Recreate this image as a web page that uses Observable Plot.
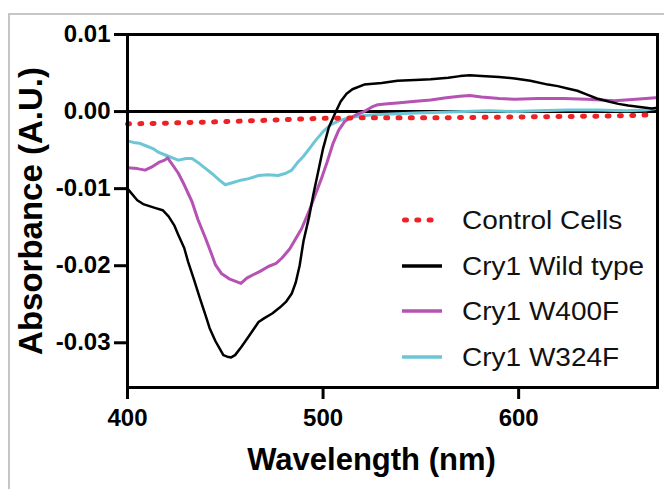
<!DOCTYPE html>
<html>
<head>
<meta charset="utf-8">
<script src="https://cdn.jsdelivr.net/npm/d3@7"></script>
<script src="https://cdn.jsdelivr.net/npm/@observablehq/plot@0.6"></script>
<style>
  html, body { margin: 0; padding: 0; background: #fff; overflow: hidden; }
  #wrap { position: relative; width: 664px; height: 489px; font-family: "Liberation Sans", Arial, sans-serif; }
  #frame { position: absolute; left: 8px; top: 13px; width: 700px; height: 520px; border-left: 2px solid #c6c6c6; border-top: 2px solid #c6c6c6; }
  #chart { position: absolute; left: 0; top: 0; }
  .leg { position: absolute; left: 0; top: 0; }
  .row { position: absolute; height: 0; }
  .row svg { position: absolute; left: 0; top: -6px; }
  .row span { position: absolute; left: 62px; top: -15px; font-size: 25px; line-height: 30px; white-space: nowrap; transform: scaleX(1.12); transform-origin: left center; color: #111; }
</style>
</head>
<body>
<div id="wrap">
  <div id="frame"></div>
  <div id="chart"></div>
  <div class="leg" id="legend"></div>
</div>
<script>
// ---- Data ----
const seriesNames = ["Control Cells", "Cry1 Wild type", "Cry1 W400F", "Cry1 W324F"];
const seriesColors = ["#ec2227", "#000000", "#b552b2", "#6cc6d6"];

const controlWl = [400, 420, 450, 475, 496, 520, 560, 600, 640, 660, 670];
const controlAbs = [-0.0016, -0.0015, -0.0013, -0.0011, -0.0009, -0.0008, -0.0008, -0.0007, -0.0006, -0.0005, -0.0004];

const wildWl = [400, 405, 408, 414, 418, 421, 424, 426, 429, 431, 434, 437, 440, 442, 445, 447, 449, 451, 453, 455, 458, 460, 463, 467, 470, 474, 478, 481, 484, 486, 488, 490, 493, 495, 498, 500, 503, 506, 509, 512, 515, 521, 530, 538, 547, 555, 564, 570, 575, 581, 590, 598, 606, 615, 620, 625, 630, 635, 640, 646, 651, 656, 662, 668, 671];
const wildAbs = [-0.0100, -0.0115, -0.0120, -0.0125, -0.0128, -0.0136, -0.0148, -0.0160, -0.0177, -0.0195, -0.0218, -0.0242, -0.0265, -0.0281, -0.0298, -0.0307, -0.0316, -0.0318, -0.0319, -0.0316, -0.0306, -0.0299, -0.0288, -0.0273, -0.0268, -0.0262, -0.0254, -0.0247, -0.0236, -0.0222, -0.0200, -0.0168, -0.0135, -0.0108, -0.0072, -0.0048, -0.0020, -0.0003, 0.0013, 0.0023, 0.0029, 0.0035, 0.0037, 0.0040, 0.0041, 0.0042, 0.0044, 0.0046, 0.0047, 0.0046, 0.0045, 0.0043, 0.0040, 0.0035, 0.0033, 0.0030, 0.0027, 0.0022, 0.0017, 0.0013, 0.0010, 0.0008, 0.0006, 0.0004, 0.0005];

const w400Wl = [400, 405, 409, 413, 416, 419, 420.5, 423, 426, 429, 433, 436, 440, 443, 445, 448, 452, 456, 458, 461, 464, 468, 472, 476, 479, 483, 486, 489, 493, 496, 499, 502, 505, 508, 511, 514, 518, 521, 525, 528, 533, 538, 546, 555, 563, 570, 575, 581, 590, 598, 610, 623, 635, 649, 660, 670];
const w400Abs = [-0.0073, -0.0074, -0.0076, -0.0071, -0.0066, -0.0063, -0.0060, -0.0069, -0.0080, -0.0095, -0.0117, -0.0140, -0.0165, -0.0185, -0.0199, -0.0210, -0.0217, -0.0221, -0.0223, -0.0216, -0.0212, -0.0207, -0.0201, -0.0197, -0.0190, -0.0178, -0.0165, -0.0152, -0.0128, -0.0108, -0.0088, -0.0066, -0.0042, -0.0024, -0.0013, -0.0008, -0.0003, 0.0000, 0.0006, 0.0009, 0.0010, 0.0011, 0.0013, 0.0015, 0.0018, 0.0020, 0.0021, 0.0019, 0.0017, 0.0016, 0.0017, 0.0017, 0.0016, 0.0014, 0.0016, 0.0018];

const w324Wl = [400, 403, 406, 409, 413, 416, 419, 423, 426, 430, 433, 436, 440, 443, 447, 450, 454, 458, 462, 467, 472, 477, 481, 484, 487, 490, 493, 496, 500, 504, 508, 512, 518, 526, 535, 547, 560, 572, 585, 598, 610, 625, 640, 655, 665, 670];
const w324Abs = [-0.0038, -0.0040, -0.0041, -0.0044, -0.0048, -0.0053, -0.0056, -0.0060, -0.0063, -0.0061, -0.0061, -0.0066, -0.0074, -0.0080, -0.0089, -0.0095, -0.0092, -0.0089, -0.0087, -0.0083, -0.0082, -0.0083, -0.0080, -0.0076, -0.0066, -0.0058, -0.0048, -0.0038, -0.0026, -0.0017, -0.0012, -0.0009, -0.0006, -0.0004, -0.0003, -0.0002, -0.0001, 0.0000, 0.0001, 0.0000, 0.0001, 0.0002, 0.0002, 0.0001, 0.0002, 0.0004];

const xTicks = [400, 500, 600];
const yTicks = [0.01, 0.00, -0.01, -0.02, -0.03];
const xLabel = "Wavelength (nm)";
const yLabel = "Absorbance (A.U.)";

// ---- Build tables ----
const toRows = (wl, ab) => wl.map((w, i) => ({ w, a: ab[i] }));
const control = toRows(controlWl, controlAbs);
const wild = toRows(wildWl, wildAbs);
const w400 = toRows(w400Wl, w400Abs);
const w324 = toRows(w324Wl, w324Abs);

const fmtY = d => (Math.abs(d) < 1e-12 ? "0.00" : d.toFixed(2));

const chart = Plot.plot({
  width: 664,
  height: 489,
  marginLeft: 127,
  marginRight: 7,
  marginTop: 34,
  marginBottom: 102,
  style: { fontFamily: "'Liberation Sans', Arial, sans-serif", fontWeight: "bold", fontSize: "24px", color: "#000", background: "transparent" },
  x: { domain: [400, 671] },
  y: { domain: [-0.0358, 0.01] },
  marks: [
    Plot.ruleY([0], { stroke: "#000", strokeWidth: 3 }),
    Plot.line(w324, { x: "w", y: "a", stroke: seriesColors[3], strokeWidth: 3 }),
    Plot.line(w400, { x: "w", y: "a", stroke: seriesColors[2], strokeWidth: 3 }),
    Plot.line(wild, { x: "w", y: "a", stroke: seriesColors[1], strokeWidth: 2.5 }),
    Plot.line(control, { x: "w", y: "a", stroke: seriesColors[0], strokeWidth: 5, strokeDasharray: "2 10.3", strokeLinecap: "round" }),
    Plot.frame({ stroke: "#000", strokeWidth: 3 }),
    Plot.axisX({ ticks: xTicks, tickSize: 12, tickPadding: 9, strokeWidth: 3, label: null, fontSize: 24, fontWeight: "bold", tickFormat: d => String(d) }),
    Plot.axisY({ ticks: yTicks, tickSize: 13, tickPadding: 4, strokeWidth: 3, label: null, fontSize: 24, fontWeight: "bold", tickFormat: fmtY }),
    Plot.text([xLabel], { frameAnchor: "bottom", dy: 73, dx: -21, fontSize: 31, fontWeight: "bold", lineAnchor: "middle", textAnchor: "middle", fill: "#000" }),
    Plot.text([yLabel], { frameAnchor: "left", dx: -96, rotate: -90, fontSize: 33, fontWeight: "bold", lineAnchor: "middle", textAnchor: "middle", fill: "#000" })
  ]
});
document.getElementById("chart").appendChild(chart);

// ---- Legend (inside plot, lower right) ----
const legend = document.getElementById("legend");
const legendTops = [220, 265.5, 311, 356.5];
seriesNames.forEach((name, i) => {
  const row = document.createElement("div");
  row.className = "row";
  row.style.left = "400px";
  row.style.top = legendTops[i] + "px";
  const dotted = i === 0;
  row.innerHTML =
    `<svg width="46" height="12"><line x1="${dotted ? 4.5 : 2}" y1="6" x2="${dotted ? 34 : 42}" y2="6" stroke="${seriesColors[i]}" stroke-width="${dotted ? 5 : 3.5}" ${dotted ? 'stroke-dasharray="2 10.3" stroke-linecap="round"' : ''}/></svg><span>${name}</span>`;
  legend.appendChild(row);
});
</script>
</body>
</html>
